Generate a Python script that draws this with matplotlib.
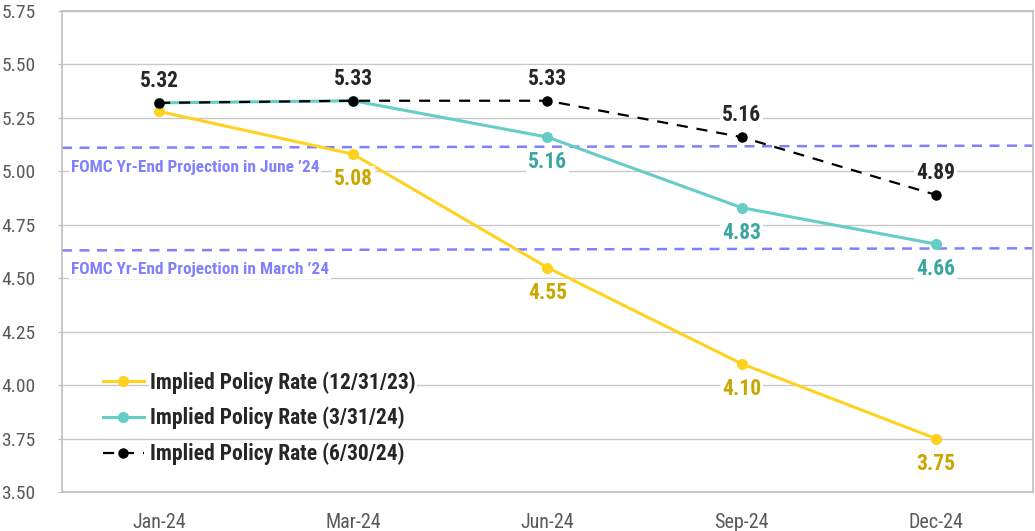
import matplotlib
matplotlib.use("Agg")
import matplotlib.pyplot as plt
from matplotlib import font_manager

names = {f.name for f in font_manager.fontManager.ttflist}
fam = [n for n in ["Roboto Condensed", "Liberation Sans Narrow", "Arial Narrow", "Roboto", "DejaVu Sans"] if n in names]
plt.rcParams['font.family'] = fam

months = ["Jan-24", "Mar-24", "Jun-24", "Sep-24", "Dec-24"]
rate_1231 = [5.28, 5.08, 4.55, 4.10, 3.75]
rate_0331 = [5.32, 5.33, 5.16, 4.83, 4.66]
rate_0630 = [5.32, 5.33, 5.33, 5.16, 4.89]
fomc_june = [5.11, 5.12]
fomc_march = [4.63, 4.64]
yticks = [3.50, 3.75, 4.00, 4.25, 4.50, 4.75, 5.00, 5.25, 5.50, 5.75]

c_yel = "#ffd21f"
c_yel_lbl = "#c9a600"
c_teal = "#66ccc6"
c_teal_lbl = "#3aa79f"
c_blk = "#000000"
c_blk_lbl = "#262626"
c_fomc = "#8080ff"

fig = plt.figure(figsize=(10.35, 5.31), dpi=100)
ax = fig.add_axes([0.0599, 0.0734, 0.938, 0.906])
x = list(range(len(months)))

ax.plot([-0.5, 4.5], fomc_june, color=c_fomc, lw=1.8, ls=(0, (4, 3)), zorder=2)
ax.plot([-0.5, 4.5], fomc_march, color=c_fomc, lw=1.8, ls=(0, (4, 3)), zorder=2)

l1, = ax.plot(x, rate_1231, color=c_yel, lw=2.2, marker='o', ms=7, zorder=4,
              label="Implied Policy Rate (12/31/23)")
l2, = ax.plot(x, rate_0331, color=c_teal, lw=2.2, marker='o', ms=7, zorder=5,
              label="Implied Policy Rate (3/31/24)")
l3, = ax.plot(x, rate_0630, color=c_blk, lw=1.6, ls=(0, (5, 4)), marker='o', ms=6.5, zorder=6,
              label="Implied Policy Rate (6/30/24)")

bb = dict(facecolor='white', edgecolor='none', pad=1.5)
fs_lbl = 15.5
for i in range(len(months)):
    ax.annotate(f"{rate_0630[i]:.2f}", (i, rate_0630[i]), xytext=(0, 16), textcoords='offset points',
                ha='center', va='center', fontsize=fs_lbl, fontweight='bold', color=c_blk_lbl, bbox=bb, zorder=7)
for i in range(2, len(months)):
    ax.annotate(f"{rate_0331[i]:.2f}", (i, rate_0331[i]), xytext=(0, -18), textcoords='offset points',
                ha='center', va='center', fontsize=fs_lbl, fontweight='bold', color=c_teal_lbl, bbox=bb, zorder=7)
for i in range(1, len(months)):
    ax.annotate(f"{rate_1231[i]:.2f}", (i, rate_1231[i]), xytext=(0, -18), textcoords='offset points',
                ha='center', va='center', fontsize=fs_lbl, fontweight='bold', color=c_yel_lbl, bbox=bb, zorder=7)

ax.text(-0.455, fomc_june[0] - 0.09, "FOMC Yr-End Projection in June \u201924", color=c_fomc,
        fontsize=12.4, fontweight='bold', ha='left', va='center', bbox=bb, zorder=3)
ax.text(-0.455, fomc_march[0] - 0.09, "FOMC Yr-End Projection in March \u201924", color=c_fomc,
        fontsize=12.4, fontweight='bold', ha='left', va='center', bbox=bb, zorder=3)

ax.set_xlim(-0.5, 4.5)
ax.set_ylim(3.5, 5.75)
ax.set_yticks(yticks)
ax.set_yticklabels([f"{v:.2f}" for v in yticks])
ax.set_xticks(x)
ax.set_xticklabels(months)
ax.tick_params(axis='y', length=3, color='#bfbfbf', labelsize=14, labelcolor='#595959', pad=16)
ax.tick_params(axis='x', length=0, labelsize=14.5, labelcolor='#595959', pad=15)
ax.grid(axis='y', color='#c8c8c8', lw=1)
ax.set_axisbelow(True)
for s in ax.spines.values():
    s.set_color('#bfbfbf')
    s.set_linewidth(1.2)

leg = ax.legend(handles=[l1, l2, l3], loc='lower left', bbox_to_anchor=(0.031, 0.033), frameon=False,
                borderpad=0, prop={'size': 15.5, 'weight': 'bold'}, labelspacing=0.62,
                handlelength=1.9, handletextpad=0.3)
for t in leg.get_texts():
    t.set_color('#262626')
    t.set_bbox(dict(facecolor='white', edgecolor='none', pad=1))

fig.savefig("out.png", dpi=100)
